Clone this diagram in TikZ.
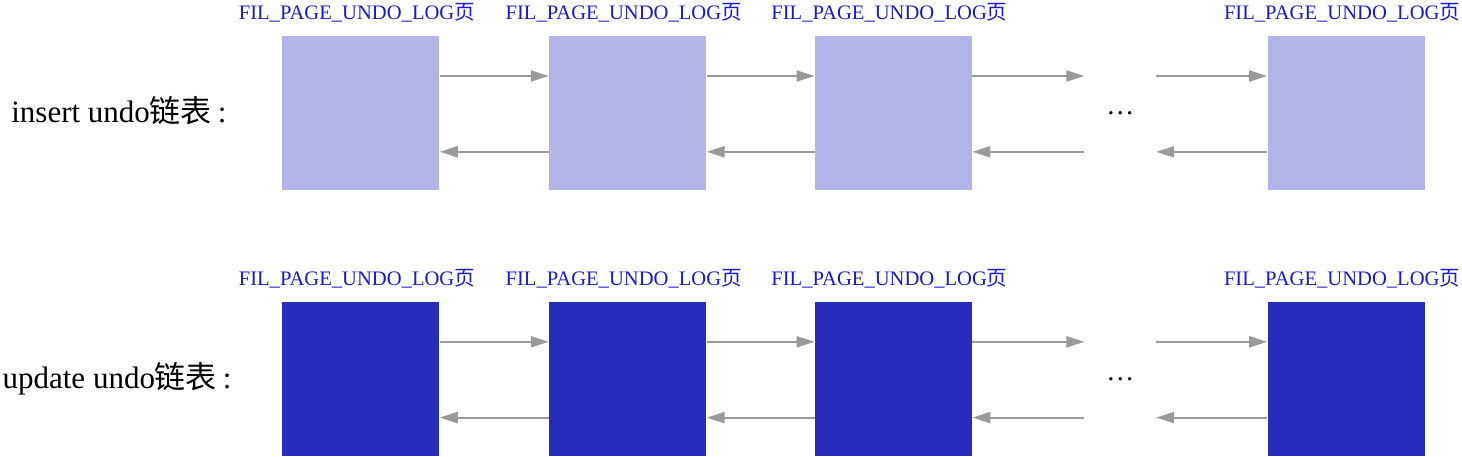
\documentclass[tikz,border=0pt]{standalone}
\usepackage{fontspec}
\usepackage{xcolor}
\usetikzlibrary{positioning,arrows.meta}
\setmainfont{Liberation Serif}
\newfontfamily\cjk{Noto Sans CJK SC}
\definecolor{pale}{HTML}{B2B4E7}
\definecolor{deep}{HTML}{282CBE}
\definecolor{ink}{HTML}{1A1AC8}
\definecolor{wire}{HTML}{9A9A9A}

\begin{document}
\begin{tikzpicture}[
  font=\fontsize{10.3pt}{12pt}\selectfont,
  pg/.style={minimum width=78.5pt,minimum height=77pt,inner sep=0pt,draw=none},
  lite/.style={pg,fill=pale},
  dark/.style={pg,fill=deep},
  gap/.style={minimum width=35.5pt,minimum height=77pt,inner sep=0pt,text depth=-3pt,font=\fontsize{14pt}{16pt}\selectfont},
  tag/.style={text=ink,inner sep=0pt,xshift=-2pt},
  row/.style={inner sep=0pt,font=\fontsize{15.5pt}{18pt}\selectfont},
  a/.style={-{Triangle[length=9pt,width=5.5pt]},draw=wire,line width=1.1pt}]
\useasboundingbox (0,0) rectangle (731pt,-228pt);
% insert row
\node[lite,anchor=north west] (p1) at (141pt,-18pt) {};
\node[lite,right=54.5pt of p1] (p2) {};
\node[lite,right=54pt of p2] (p3) {};
\node[gap,right=56pt of p3] (dp) {\ldots};
\node[lite,right=55.5pt of dp] (p4) {};
\node[row,left=27.5pt of p1,yshift=1.5pt] (ri) {insert undo{\cjk 链表}\hspace{3pt}:};
% update row
\node[dark,below=55.5pt of p1] (q1) {};
\node[dark,right=54.5pt of q1] (q2) {};
\node[dark,right=54pt of q2] (q3) {};
\node[gap,right=56pt of q3] (dq) {\ldots};
\node[dark,right=55.5pt of dq] (q4) {};
\node[row,left=25pt of q1] (ru) {update undo{\cjk 链表}\hspace{3pt}:};
% page labels
\foreach \n in {p1,p2,p3,p4,q1,q2,q3,q4}
  \node[tag,above=6.5pt of \n] (t\n) {FIL\_PAGE\_UNDO\_LOG{\cjk 页}};
% links
\foreach \l/\r in {p1/p2,p2/p3,p3/dp,dp/p4,q1/q2,q2/q3,q3/dq,dq/q4}{
  \draw[a] ([yshift=-20pt]\l.north east) -- ([yshift=-20pt]\r.north west);
  \draw[a] ([yshift=19.5pt]\r.south west) -- ([yshift=19.5pt]\l.south east);
}
\end{tikzpicture}
\end{document}
